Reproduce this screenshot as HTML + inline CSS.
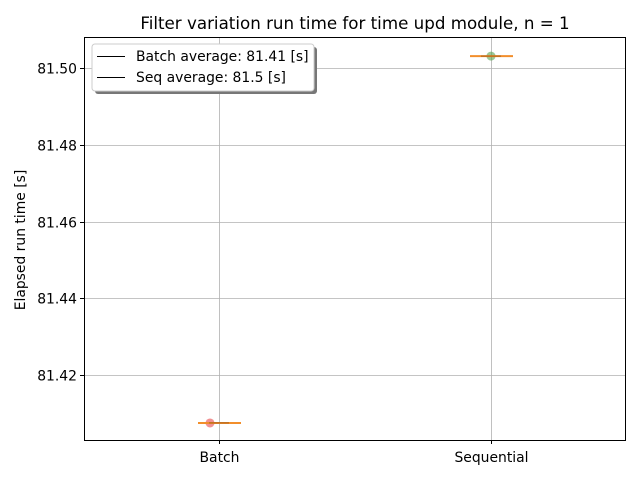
<!DOCTYPE html>
<html><head><meta charset="utf-8"><style>
body{margin:0;background:#fff}
svg{display:block;font-family:"DejaVu Sans","Liberation Sans",sans-serif}
</style></head><body>
<svg id="chart" width="640" height="480">
<rect x="0" y="0" width="640" height="480" fill="#fff"/>
<g id="grid"></g>
<g id="marks"></g>
<rect x="84.5" y="37.5" width="541" height="403" fill="none" stroke="#000" stroke-width="1"/>
<g id="ticks"></g>
<text x="355" y="29" text-anchor="middle" font-size="16.7">Filter variation run time for time upd module, n = 1</text>
<text transform="translate(25,240) rotate(-90)" text-anchor="middle" font-size="13.9">Elapsed run time [s]</text>
<g>
<rect x="95" y="47" width="222" height="47" rx="3" fill="#777"/>
<rect x="92" y="44" width="222" height="47" rx="3" fill="#fff" stroke="#ccc"/>
<g><line x1="97" y1="56.5" x2="125" y2="56.5" stroke="#000" stroke-width="1"/><text x="136" y="61" font-size="13.9">Batch average: 81.41 [s]</text></g>
<g><line x1="97" y1="77.5" x2="125" y2="77.5" stroke="#000" stroke-width="1"/><text x="136" y="82" font-size="13.9">Seq average: 81.5 [s]</text></g>
</g>
</svg>
<script>
const categories=["Batch","Sequential"];
const values=[81.4075,81.5031];
const yTicks=[81.42,81.44,81.46,81.48,81.50];
const colors=["#e8474a","#59a14f"];
const xS=i=>219+i*272;
const yS=v=>375-(v-81.42)/0.02*76.75;
const NS="http://www.w3.org/2000/svg";
const g=document.getElementById('grid'),m=document.getElementById('marks'),t=document.getElementById('ticks');
function mk(p,tag,a){const e=document.createElementNS(NS,tag);for(const k in a)e.setAttribute(k,a[k]);p.appendChild(e);return e;}
yTicks.forEach(v=>{const y=Math.round(yS(v))+0.5;
 const l=mk(g,'line',{x1:84,x2:626,y1:y,y2:y,stroke:'#b0b0b0','stroke-width':0.8});
 
 
 mk(t,'line',{x1:80,x2:84,y1:y,y2:y,stroke:'#000'});
 const tx=mk(t,'text',{x:77,y:y+5,'text-anchor':'end','font-size':13.9});tx.textContent=v.toFixed(2);
 
 
});
categories.forEach((c,i)=>{const x=xS(i)+0.5;
 const l=mk(g,'line',{x1:x,x2:x,y1:37,y2:440,stroke:'#b0b0b0','stroke-width':0.8});
 
 
 mk(t,'line',{x1:x,x2:x,y1:440,y2:444,stroke:'#000'});
 const tx=mk(t,'text',{x:x,y:462,'text-anchor':'middle','font-size':13.9});tx.textContent=c;
 
 
 const y=yS(values[i]);
 const off=i===0?-9:0;
 const pt=mk(m,'circle',{cx:xS(i)+off,cy:y,r:4.5,fill:colors[i],'fill-opacity':0.6});
 
 
 const med=mk(m,'line',{x1:xS(i)-21,x2:xS(i)+22,y1:y,y2:y,stroke:'#f28e2b','stroke-width':2});
 
 
 const avg=mk(m,'line',{x1:xS(i)-10,x2:xS(i)+10,y1:y,y2:y,stroke:'#000','stroke-width':0.6,'stroke-opacity':0.5});
 
 
});
</script>
</body></html>
